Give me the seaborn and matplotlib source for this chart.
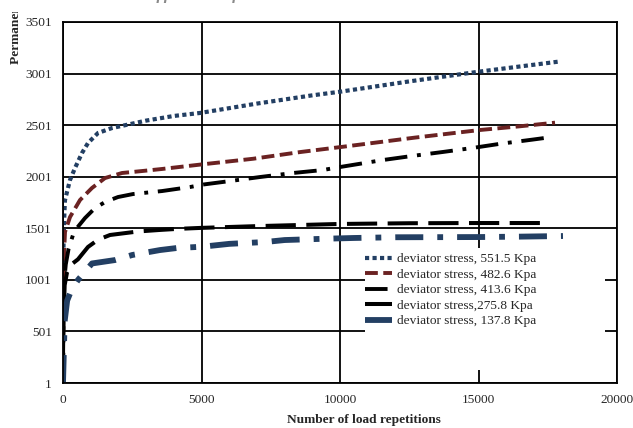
import numpy as np
import pandas as pd
import seaborn as sns
import matplotlib
matplotlib.use("Agg")
import matplotlib.pyplot as plt
from matplotlib.patches import Rectangle
from matplotlib.transforms import Bbox

# ---- data: permanent strain vs number of load repetitions ----
x_551 = [0, 20, 50, 72, 253, 433, 686, 903, 1264, 1769, 2491, 3000, 4000, 4946,
         7000, 9000, 10000, 12500, 15000, 16500, 17870]
y_551 = [950, 1350, 1650, 1775, 1969, 2085, 2231, 2328, 2425, 2473, 2515, 2545,
         2590, 2619, 2710, 2790, 2825, 2925, 3019, 3070, 3116]

x_482 = [0, 10, 30, 72, 253, 614, 1047, 1516, 2130, 2852, 3574, 5000, 6860,
         8560, 10361, 12700, 15054, 16500, 17762]
y_482 = [300, 800, 1200, 1465, 1610, 1775, 1892, 1988, 2037, 2056, 2076, 2120,
         2175, 2240, 2300, 2380, 2454, 2490, 2525]

x_413 = [0, 20, 50, 100, 200, 400, 794, 1155, 1516, 1985, 2527, 3069, 3574,
         4585, 5054, 6029, 7112, 8303, 9386, 10000, 11552, 12599, 13718, 14765,
         15776, 16931, 17653]
y_413 = [200, 700, 1000, 1150, 1300, 1470, 1600, 1697, 1755, 1804, 1833, 1848,
         1862, 1901, 1925, 1959, 1998, 2037, 2066, 2095, 2163, 2202, 2241, 2279,
         2320, 2360, 2386]

x_275 = [0, 20, 60, 150, 300, 540, 903, 1264, 1697, 2708, 3502, 4115, 5000,
         7000, 10000, 12500, 15000, 17400]
y_275 = [1, 600, 950, 1080, 1150, 1200, 1320, 1390, 1436, 1470, 1485, 1495,
         1505, 1522, 1543, 1550, 1552, 1552]

x_137 = [0, 30, 60, 150, 300, 540, 1047, 1877, 2500, 3502, 4115, 5018, 6000,
         7300, 8000, 9500, 10500, 12000, 15000, 16500, 18050]
y_137 = [1, 300, 600, 800, 900, 1000, 1160, 1193, 1242, 1290, 1310, 1322, 1350,
         1368, 1387, 1400, 1407, 1414, 1416, 1420, 1426]

labels = ["deviator stress, 551.5 Kpa", "deviator stress, 482.6 Kpa",
          "deviator stress, 413.6 Kpa", "deviator stress,275.8 Kpa",
          "deviator stress, 137.8 Kpa"]

x_ticks = [0, 5000, 10000, 15000, 20000]
y_ticks = [1, 501, 1001, 1501, 2001, 2501, 3001, 3501]

# ---- styling ----
sns.set_theme(style="white")
plt.rcParams["font.family"] = ["Liberation Serif", "DejaVu Serif"]

NAVY = "#233f63"
MAROON = "#6b2222"
BLACK = "#000000"
TEXT = "#262626"

series = [
    (x_551, y_551, NAVY, 3.0, (0, (1.0, 0.8))),
    (x_482, y_482, MAROON, 2.8, (0, (3.3, 1.4))),
    (x_413, y_413, BLACK, 2.8, (0, (5.8, 2.5, 1.0, 2.5))),
    (x_275, y_275, BLACK, 2.9, (0, (7.5, 2.6))),
    (x_137, y_137, NAVY, 4.2, (0, (4.8, 2.4, 1.0, 2.4))),
]

fig = plt.figure(figsize=(6.33, 4.28), dpi=100)
ax = fig.add_axes([63 / 633, 1 - 383 / 428, (617 - 63) / 633, (383 - 22) / 428])

handles = []
for (xs, ys, col, lw, ls), lab in zip(series, labels):
    df = pd.DataFrame({"reps": xs, "strain": ys})
    sns.lineplot(data=df, x="reps", y="strain", ax=ax, color=col, linewidth=lw,
                 linestyle=ls, sort=False, label=lab, legend=False)
    line = ax.lines[-1]
    line.set_dash_capstyle("butt")
    line.set_solid_capstyle("butt")
    handles.append(line)

ax.set_xlim(0, 20000)
ax.set_ylim(1, 3501)
ax.set_xticks(x_ticks)
ax.set_yticks(y_ticks)
ax.set_xticklabels([str(v) for v in x_ticks])
ax.set_yticklabels([str(v) for v in y_ticks])
ax.tick_params(axis="both", length=0, labelsize=9.6, colors=TEXT)
ax.tick_params(axis="x", pad=8)
ax.tick_params(axis="y", pad=8)

ax.grid(True, color="black", linewidth=1.3)
ax.set_axisbelow(True)
for sp in ax.spines.values():
    sp.set_color("black")
    sp.set_linewidth(1.3)

ax.set_xlabel("Number of load repetitions", fontsize=9.6, fontweight="bold",
              labelpad=2, color=TEXT)
ax.xaxis.set_label_coords((364 - 63) / 554, -0.085)
ax.set_ylabel("")

# white panel behind the legend
ax.add_patch(Rectangle((10903, 127), 19567 - 10903, 1310 - 127,
                       facecolor="white", edgecolor="none", zorder=1.5))

leg = ax.legend(handles, labels, loc="upper left",
                bbox_to_anchor=(365 / 633, 1 - 253 / 428),
                bbox_transform=fig.transFigure, frameon=False, fontsize=9.6,
                handlelength=2.0, handletextpad=0.4, labelspacing=0.24,
                borderpad=0, borderaxespad=0)
for t in leg.get_texts():
    t.set_color(TEXT)

# y-axis title, partly hidden under the top margin
yl = fig.text(15 / 633, 1 - 64 / 428, "Permanent strain (micro strain)",
              rotation=90, ha="center", va="bottom", fontsize=9.6,
              fontweight="bold", color=TEXT)
yl.set_clip_box(Bbox.from_extents(0, 0, 633, 428 - 12))

# chart title running off the top edge
fig.text(318 / 633, 1 + 2 / 428, "Effects of deviator stress at 40 \u00b0C",
         ha="center", va="baseline", fontsize=19, style="italic",
         color="#8a8a8a")

fig.savefig("out.png", dpi=100)
